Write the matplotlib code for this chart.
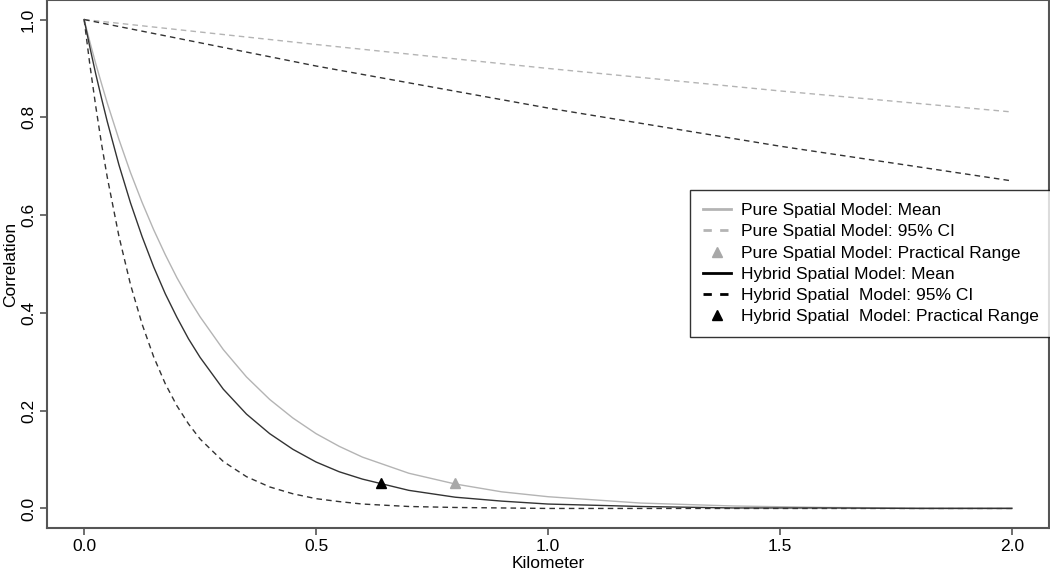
import numpy as np
import matplotlib.pyplot as plt
from matplotlib.lines import Line2D

plt.rcParams['font.family'] = ['Liberation Sans', 'DejaVu Sans']

# distances (km) and correlation values
dist = [0, 0.0125, 0.025, 0.0375, 0.05, 0.075, 0.1, 0.125, 0.15, 0.175, 0.2, 0.225,
        0.25, 0.3, 0.35, 0.4, 0.45, 0.5, 0.55, 0.6, 0.7, 0.8, 0.9, 1.0,
        1.2, 1.4, 1.6, 1.8, 2.0]
pure_mean = [1, 0.954, 0.910, 0.869, 0.829, 0.755, 0.687, 0.626, 0.570, 0.519,
             0.472, 0.430, 0.392, 0.325, 0.269, 0.223, 0.185, 0.153, 0.127,
             0.105, 0.072, 0.050, 0.034, 0.024, 0.011, 0.005, 0.002, 0.001, 0.001]
hybrid_mean = [1, 0.943, 0.889, 0.839, 0.791, 0.703, 0.625, 0.556, 0.494, 0.439,
               0.391, 0.347, 0.309, 0.244, 0.193, 0.153, 0.121, 0.095, 0.075,
               0.060, 0.037, 0.023, 0.015, 0.009, 0.004, 0.001, 0.001, 0.0, 0.0]
hybrid_lower = [1, 0.907, 0.823, 0.746, 0.677, 0.557, 0.458, 0.377, 0.310, 0.255,
                0.210, 0.173, 0.142, 0.096, 0.065, 0.044, 0.030, 0.020, 0.014,
                0.009, 0.004, 0.002, 0.001, 0.0, 0.0, 0.0, 0.0, 0.0, 0.0]

ci_dist = [0, 0.5, 1.0, 1.5, 2.0]
pure_upper = [1, 0.949, 0.900, 0.854, 0.811]
hybrid_upper = [1, 0.905, 0.819, 0.741, 0.670]

# practical range points
pure_range = (0.80, 0.052)
hybrid_range = (0.64, 0.052)

light = '#b4b4b4'
dark = '#333333'

fig = plt.figure(figsize=(10.5, 5.72), dpi=100)
ax = fig.add_axes([47/1050, 1 - 528/572, 1002/1050, 528/572])

ax.plot(ci_dist, pure_upper, color=light, lw=1, dashes=(4, 3))
ax.plot(ci_dist, hybrid_upper, color=dark, lw=1, dashes=(4, 3))
ax.plot(dist, hybrid_lower, color=dark, lw=1, dashes=(4, 3))
ax.plot(dist, pure_mean, color=light, lw=1)
ax.plot(dist, hybrid_mean, color=dark, lw=1)
ax.plot(*pure_range, marker='^', color='#a8a8a8', ms=7, ls='none')
ax.plot(*hybrid_range, marker='^', color='black', ms=7, ls='none')

ax.set_xlim(-0.08, 2.08)
ax.set_ylim(-0.04, 1.04)
ax.set_xticks([0.0, 0.5, 1.0, 1.5, 2.0])
ax.set_yticks([0.0, 0.2, 0.4, 0.6, 0.8, 1.0])
ax.set_xticklabels(['0.0', '0.5', '1.0', '1.5', '2.0'])
ax.set_yticklabels(['0.0', '0.2', '0.4', '0.6', '0.8', '1.0'], rotation=90, va='center')
ax.tick_params(labelsize=12.5, length=5, color='#555555', width=1.2, pad=3)
for s in ax.spines.values():
    s.set_color('#555555')
    s.set_linewidth(1.5)
ax.set_xlabel('Kilometer', fontsize=12.5, labelpad=1)
ax.set_ylabel('Correlation', fontsize=12.5, labelpad=2)

handles = [
    Line2D([], [], color=light, lw=2),
    Line2D([], [], color=light, lw=2, dashes=(3, 3)),
    Line2D([], [], color='#a8a8a8', marker='^', ls='none', ms=7),
    Line2D([], [], color='black', lw=2),
    Line2D([], [], color='black', lw=2, dashes=(3, 3)),
    Line2D([], [], color='black', marker='^', ls='none', ms=7),
]
labels = ['Pure Spatial Model: Mean',
          'Pure Spatial Model: 95% CI',
          'Pure Spatial Model: Practical Range',
          'Hybrid Spatial Model: Mean',
          'Hybrid Spatial  Model: 95% CI',
          'Hybrid Spatial  Model: Practical Range']
leg = ax.legend(handles, labels, loc='upper left',
                bbox_to_anchor=(690/1050, 1 - 190/572), bbox_transform=fig.transFigure,
                fontsize=12.5, frameon=True, fancybox=False, handlelength=1.6,
                handletextpad=0.6, labelspacing=0.35, borderpad=0.75, borderaxespad=0)
leg.get_frame().set_edgecolor('black')
leg.get_frame().set_linewidth(1)

fig.savefig('out.png', dpi=100)
